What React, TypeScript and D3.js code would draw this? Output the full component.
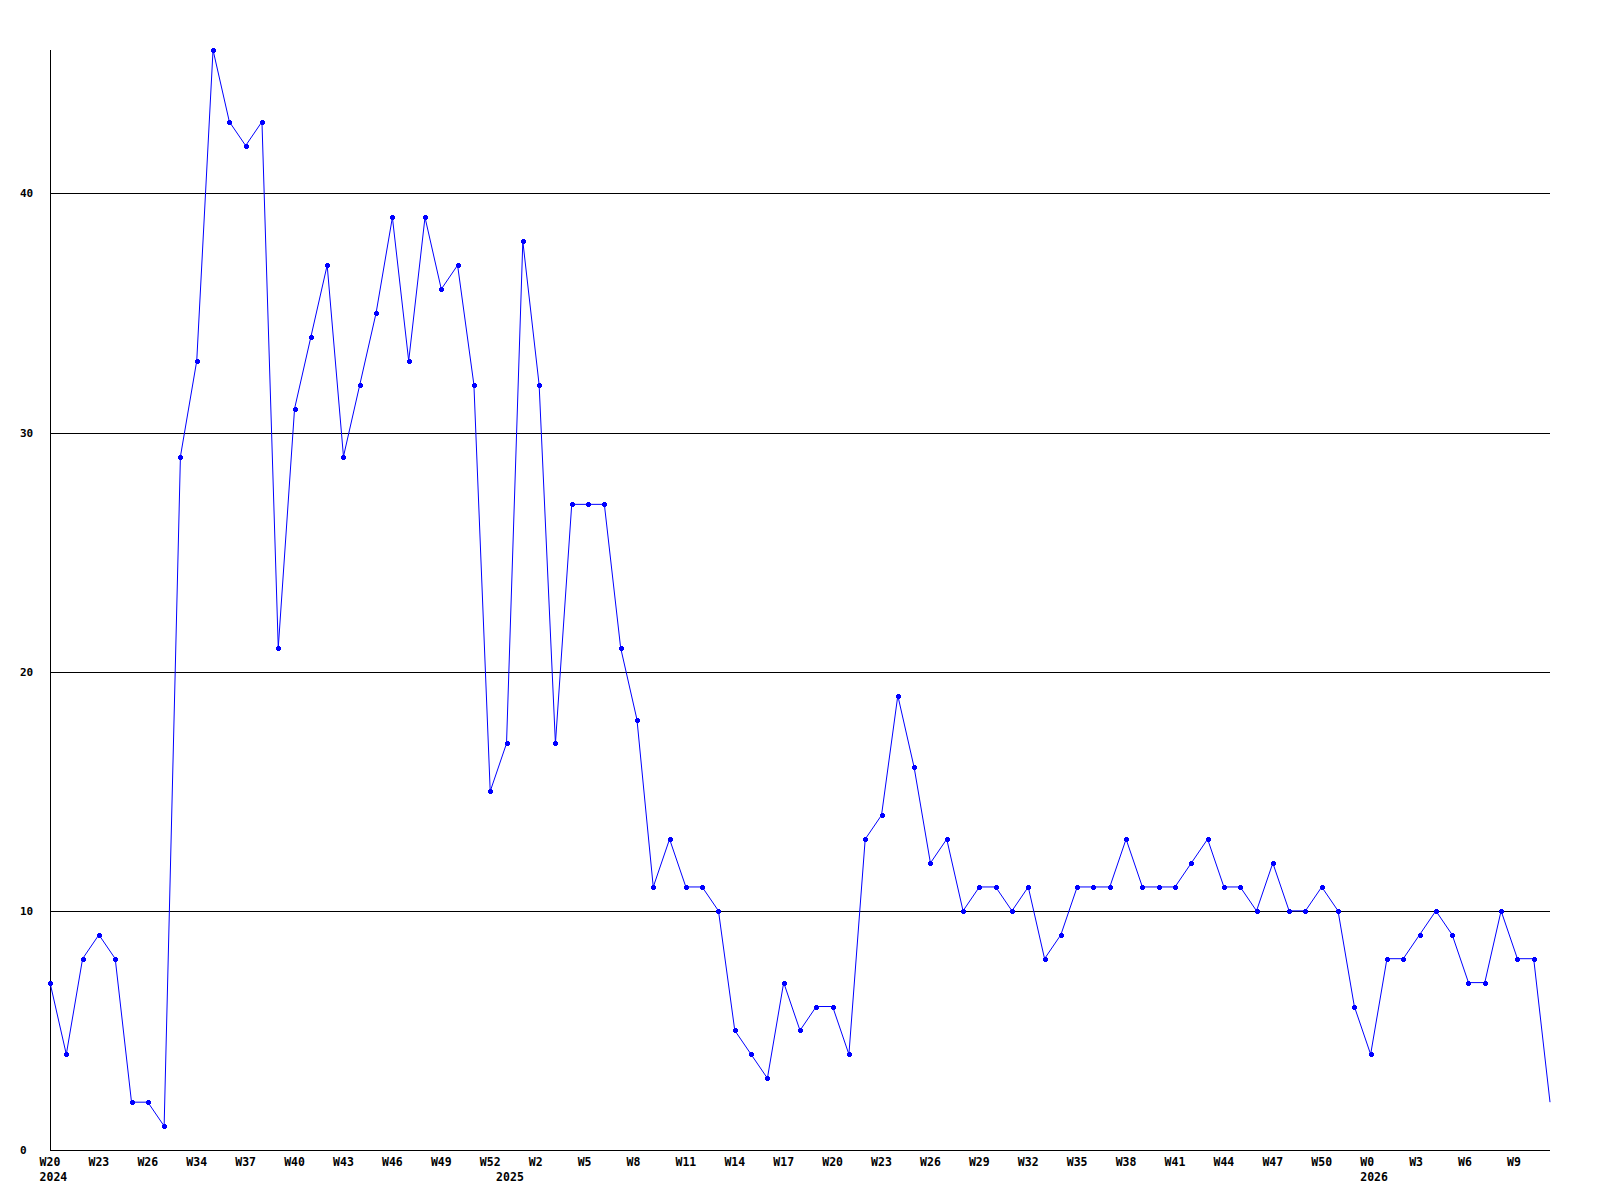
import React from "react";
import * as d3 from "d3";

const values: number[] = [
  7, 4, 8, 9, 8, 2, 2, 1, 29, 33, 46, 43, 42, 43, 21, 31, 34, 37, 29, 32,
  35, 39, 33, 39, 36, 37, 32, 15, 17, 38, 32, 17, 27, 27, 27, 21, 18, 11, 13, 11,
  11, 10, 5, 4, 3, 7, 5, 6, 6, 4, 13, 14, 19, 16, 12, 13, 10, 11, 11, 10,
  11, 8, 9, 11, 11, 11, 13, 11, 11, 11, 12, 13, 11, 11, 10, 12, 10, 10, 11, 10,
  6, 4, 8, 8, 9, 10, 9, 7, 7, 10, 8, 8, 2,
];

const weekLabels: string[] = [
  "W20", "W23", "W26", "W34", "W37", "W40", "W43", "W46", "W49", "W52", "W2",
  "W5", "W8", "W11", "W14", "W17", "W20", "W23", "W26", "W29", "W32", "W35",
  "W38", "W41", "W44", "W47", "W50", "W0", "W3", "W6", "W9",
];

const yearLabels: { index: number; label: string }[] = [
  { index: 0, label: "2024" },
  { index: 28, label: "2025" },
  { index: 81, label: "2026" },
];

const yTicks: number[] = [0, 10, 20, 30, 40];

export default function App() {
  const W = 1600;
  const H = 1200;
  const left = 50;
  const right = 1550;
  const top = 50;
  const bottom = 1150;

  const x = d3.scaleLinear().domain([0, values.length - 1]).range([left, right]);
  const y = d3.scaleLinear().domain([0, d3.max(values) as number]).range([bottom, top]);

  const line = d3
    .line<number>()
    .x((_, i) => x(i))
    .y((d) => y(d));

  const font = "'DejaVu Sans Mono', monospace";

  return (
    <svg
      width={W}
      height={H}
      style={{ position: "absolute", left: 0, top: 0, background: "#fff" }}
    >
      <rect x={0} y={0} width={W} height={H} fill="#fff" />
      {yTicks
        .filter((t) => t > 0)
        .map((t) => (
          <line
            key={"g" + t}
            x1={left}
            x2={right}
            y1={Math.round(y(t)) + 0.5}
            y2={Math.round(y(t)) + 0.5}
            stroke="#000"
            strokeWidth={1}
            shapeRendering="crispEdges"
          />
        ))}
      <line
        x1={left + 0.5}
        x2={left + 0.5}
        y1={top}
        y2={bottom + 0.5}
        stroke="#000"
        shapeRendering="crispEdges"
      />
      <line
        x1={left}
        x2={right}
        y1={bottom + 0.5}
        y2={bottom + 0.5}
        stroke="#000"
        shapeRendering="crispEdges"
      />
      {yTicks.map((t) => (
        <text
          key={"yl" + t}
          x={20}
          y={y(t)}
          dy="0.36em"
          fontFamily={font}
          fontWeight="bold"
          fontSize={11}
          fill="#000"
        >
          {t}
        </text>
      ))}
      {weekLabels.map((lab, k) => (
        <text
          key={"xl" + k}
          x={x(k * 3) - 10.4}
          y={1166}
          fontFamily={font}
          fontWeight="bold"
          fontSize={11.5}
          fill="#000"
        >
          {lab}
        </text>
      ))}
      {yearLabels.map((yl) => (
        <text
          key={"yr" + yl.label}
          x={x(yl.index) - 10.4}
          y={1181}
          fontFamily={font}
          fontWeight="bold"
          fontSize={11.5}
          fill="#000"
        >
          {yl.label}
        </text>
      ))}
      <path d={line(values) || ""} fill="none" stroke="#0000ff" strokeWidth={1} />
      {values.slice(0, values.length - 1).map((v, i) => {
        const cx = Math.round(x(i));
        const cy = Math.round(y(v));
        return (
          <g key={"m" + i} fill="#0000ff" shapeRendering="crispEdges">
            <rect x={cx - 2} y={cy - 1} width={5} height={3} />
            <rect x={cx - 1} y={cy - 2} width={3} height={5} />
          </g>
        );
      })}
    </svg>
  );
}
